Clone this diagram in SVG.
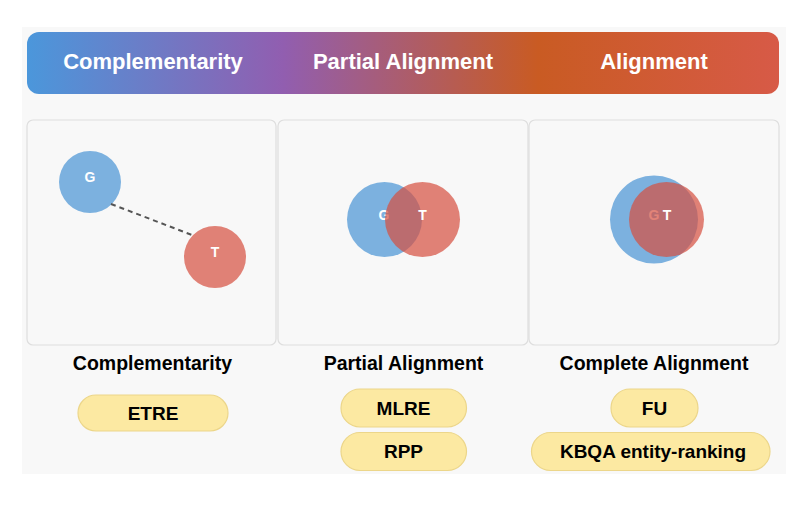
<svg xmlns="http://www.w3.org/2000/svg" width="808" height="508" viewBox="0 0 808 508">
  <defs>
    <linearGradient id="bannerGrad" x1="0" y1="0" x2="1" y2="0">
      <stop offset="0" stop-color="#4b97db"/>
      <stop offset="0.34" stop-color="#915eb0"/>
      <stop offset="0.68" stop-color="#c95b23"/>
      <stop offset="1" stop-color="#d75a47"/>
    </linearGradient>
  </defs>
  <style>
    .bg { fill: #f8f8f8; }
    .panel { fill: #f8f8f8; stroke: #dedede; stroke-width: 1.2; }
    .banner-text { font-family: "Liberation Sans", Arial, sans-serif; font-weight: bold; font-size: 22px; fill: #ffffff; text-anchor: middle; }
    .label { font-family: "Liberation Sans", Arial, sans-serif; font-weight: bold; font-size: 19.5px; fill: #000000; text-anchor: middle; }
    .pill { fill: #fce9a2; stroke: #ecd68a; stroke-width: 1.2; }
    .pill-text { font-family: "Liberation Sans", Arial, sans-serif; font-weight: bold; font-size: 19px; fill: #000000; text-anchor: middle; }
    .blue { fill: #7cb1df; }
    .red { fill: #d54f3e; fill-opacity: 0.7; }
    .ct { font-family: "Liberation Sans", Arial, sans-serif; font-weight: bold; font-size: 14px; fill: #ffffff; text-anchor: middle; }
    .dash { stroke: #555555; stroke-width: 2; stroke-dasharray: 5 4; fill: none; }
  </style>

  <rect class="bg" x="22" y="27" width="764" height="447"/>

  <g id="banner">
    <rect x="27" y="32" width="752" height="62" rx="12" fill="url(#bannerGrad)"/>
    <text class="banner-text" x="153" y="69">Complementarity</text>
    <text class="banner-text" x="403" y="69">Partial Alignment</text>
    <text class="banner-text" x="654" y="69">Alignment</text>
  </g>

  <g id="panel-complementarity">
    <rect class="panel" x="27" y="120" width="249" height="225" rx="6"/>
    <g id="node-G1">
      <circle class="blue" cx="90" cy="182" r="31"/>
      <text class="ct" x="90" y="182">G</text>
    </g>
    <g id="node-T1">
      <circle class="red" cx="215" cy="257" r="31"/>
      <text class="ct" x="215" y="257">T</text>
    </g>
  </g>

  <g id="panel-partial">
    <rect class="panel" x="278" y="120" width="250" height="225" rx="6"/>
    <g id="node-G2">
      <circle class="blue" cx="384.5" cy="219.5" r="37.5"/>
      <text class="ct" x="384" y="219.5">G</text>
    </g>
    <g id="node-T2">
      <circle class="red" cx="422.5" cy="219.5" r="37.5"/>
      <text class="ct" x="422.5" y="219.5">T</text>
    </g>
  </g>

  <g id="panel-complete">
    <rect class="panel" x="529" y="120" width="250" height="225" rx="6"/>
    <g id="node-G3">
      <circle class="blue" cx="654" cy="219.5" r="44"/>
      <text class="ct" x="654" y="219.5">G</text>
    </g>
    <g id="node-T3">
      <circle class="red" cx="666.5" cy="219.5" r="37.5"/>
      <text class="ct" x="667" y="219.5">T</text>
    </g>
  </g>

  <g id="connectors">
    <line class="dash" x1="111" y1="204" x2="192" y2="235"/>
  </g>

  <g id="labels">
    <text class="label" x="152.5" y="370">Complementarity</text>
    <text class="label" x="403.5" y="370">Partial Alignment</text>
    <text class="label" x="654" y="370">Complete Alignment</text>
  </g>

  <g id="pill-ETRE">
    <rect class="pill" x="78" y="395" width="150" height="36" rx="18"/>
    <text class="pill-text" x="153" y="419.5">ETRE</text>
  </g>
  <g id="pill-MLRE">
    <rect class="pill" x="341" y="389" width="125.5" height="38" rx="19"/>
    <text class="pill-text" x="403.5" y="414.5">MLRE</text>
  </g>
  <g id="pill-RPP">
    <rect class="pill" x="341" y="432.5" width="125.5" height="38" rx="19"/>
    <text class="pill-text" x="403.5" y="458">RPP</text>
  </g>
  <g id="pill-FU">
    <rect class="pill" x="611" y="389" width="87" height="38" rx="19"/>
    <text class="pill-text" x="654.5" y="414.5">FU</text>
  </g>
  <g id="pill-KBQA">
    <rect class="pill" x="531.5" y="432.5" width="238.5" height="38" rx="19"/>
    <text class="pill-text" x="653" y="458">KBQA entity-ranking</text>
  </g>
</svg>
